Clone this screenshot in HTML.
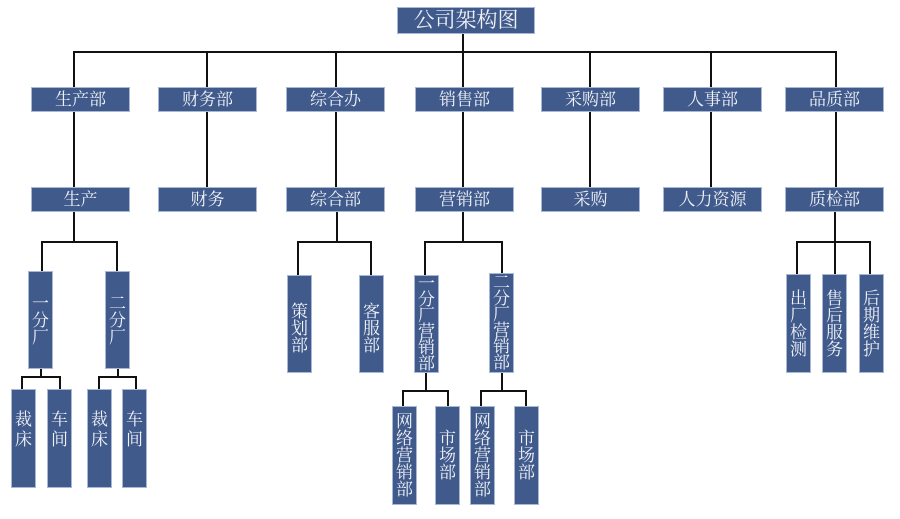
<!DOCTYPE html>
<html><head><meta charset="utf-8">
<style>
html,body{margin:0;padding:0;background:#fff;}
body{width:900px;height:519px;position:relative;overflow:hidden;font-family:"Liberation Serif","Noto Serif CJK SC",serif;}
.b{position:absolute;background:#405a8b;border:1px solid #a8b7d4;box-sizing:border-box;color:#f0f2f7;display:flex;align-items:center;justify-content:center;font-size:17px;line-height:17px;text-align:center;}
.v{flex-direction:column;}
.l{position:absolute;background:#111;}
.h{height:2px;}
.w{width:2px;}
</style></head><body>
<!-- title -->
<div class="b" style="left:397px;top:7px;width:138px;height:27px;font-size:21px;line-height:21px;">公司架构图</div>
<div class="l w" style="left:462px;top:34px;height:18px;"></div>
<div class="l h" style="left:73px;top:51px;width:764px;"></div>

<!-- level1 stems -->
<div class="l w" style="left:73px;top:52px;height:35px;"></div>
<div class="l w" style="left:206px;top:52px;height:35px;"></div>
<div class="l w" style="left:335px;top:52px;height:35px;"></div>
<div class="l w" style="left:462px;top:52px;height:35px;"></div>
<div class="l w" style="left:589px;top:52px;height:35px;"></div>
<div class="l w" style="left:710px;top:52px;height:35px;"></div>
<div class="l w" style="left:835px;top:52px;height:35px;"></div>

<!-- level1 boxes -->
<div class="b" style="left:31px;top:87px;width:99px;height:25px;">生产部</div>
<div class="b" style="left:158px;top:87px;width:99px;height:25px;">财务部</div>
<div class="b" style="left:286px;top:87px;width:99px;height:25px;">综合办</div>
<div class="b" style="left:415px;top:87px;width:99px;height:25px;">销售部</div>
<div class="b" style="left:541px;top:87px;width:99px;height:25px;">采购部</div>
<div class="b" style="left:663px;top:87px;width:99px;height:25px;">人事部</div>
<div class="b" style="left:785px;top:87px;width:99px;height:25px;">品质部</div>

<!-- level1->level2 stems -->
<div class="l w" style="left:73px;top:112px;height:75px;"></div>
<div class="l w" style="left:206px;top:112px;height:75px;"></div>
<div class="l w" style="left:335px;top:112px;height:75px;"></div>
<div class="l w" style="left:462px;top:112px;height:75px;"></div>
<div class="l w" style="left:589px;top:112px;height:75px;"></div>
<div class="l w" style="left:710px;top:112px;height:75px;"></div>
<div class="l w" style="left:835px;top:112px;height:75px;"></div>

<!-- level2 boxes -->
<div class="b" style="left:31px;top:187px;width:99px;height:25px;">生产</div>
<div class="b" style="left:158px;top:187px;width:99px;height:25px;">财务</div>
<div class="b" style="left:286px;top:187px;width:99px;height:25px;">综合部</div>
<div class="b" style="left:415px;top:187px;width:99px;height:25px;">营销部</div>
<div class="b" style="left:541px;top:187px;width:99px;height:25px;">采购</div>
<div class="b" style="left:663px;top:187px;width:99px;height:25px;">人力资源</div>
<div class="b" style="left:785px;top:187px;width:99px;height:25px;">质检部</div>

<!-- 生产 branch -->
<div class="l w" style="left:73px;top:212px;height:31px;"></div>
<div class="l h" style="left:41px;top:241px;width:77px;"></div>
<div class="l w" style="left:41px;top:241px;height:30px;"></div>
<div class="l w" style="left:116px;top:241px;height:30px;"></div>
<div class="b v" style="left:28px;top:271px;width:25px;height:98px;">一<br>分<br>厂</div>
<div class="b v" style="left:105px;top:271px;width:25px;height:98px;">二<br>分<br>厂</div>

<div class="l w" style="left:40px;top:369px;height:9px;"></div>
<div class="l h" style="left:21px;top:376px;width:40px;"></div>
<div class="l w" style="left:21px;top:376px;height:13px;"></div>
<div class="l w" style="left:59px;top:376px;height:13px;"></div>
<div class="b v" style="left:11px;top:389px;width:25px;height:99px;line-height:20px;padding-bottom:18px;">裁<br>床</div>
<div class="b v" style="left:47px;top:389px;width:25px;height:99px;line-height:20px;padding-bottom:18px;">车<br>间</div>

<div class="l w" style="left:117px;top:369px;height:9px;"></div>
<div class="l h" style="left:98px;top:376px;width:39px;"></div>
<div class="l w" style="left:98px;top:376px;height:13px;"></div>
<div class="l w" style="left:135px;top:376px;height:13px;"></div>
<div class="b v" style="left:87px;top:389px;width:25px;height:99px;line-height:20px;padding-bottom:18px;">裁<br>床</div>
<div class="b v" style="left:122px;top:389px;width:25px;height:99px;line-height:20px;padding-bottom:18px;">车<br>间</div>

<!-- 综合部 branch -->
<div class="l w" style="left:336px;top:212px;height:31px;"></div>
<div class="l h" style="left:297px;top:241px;width:75px;"></div>
<div class="l w" style="left:297px;top:241px;height:34px;"></div>
<div class="l w" style="left:370px;top:241px;height:34px;"></div>
<div class="b v" style="left:287px;top:275px;width:25px;height:98px;padding-top:8px;">策<br>划<br>部</div>
<div class="b v" style="left:359px;top:275px;width:25px;height:98px;padding-top:8px;">客<br>服<br>部</div>

<!-- 营销部 branch -->
<div class="l w" style="left:462px;top:212px;height:31px;"></div>
<div class="l h" style="left:424px;top:241px;width:79px;"></div>
<div class="l w" style="left:424px;top:241px;height:34px;"></div>
<div class="l w" style="left:501px;top:241px;height:32px;"></div>
<div class="b v" style="left:414px;top:275px;width:25px;height:98px;line-height:16px;">一<br>分<br>厂<br>营<br>销<br>部</div>
<div class="b v" style="left:489px;top:273px;width:25px;height:100px;line-height:16px;">二<br>分<br>厂<br>营<br>销<br>部</div>

<div class="l w" style="left:425px;top:373px;height:18px;"></div>
<div class="l h" style="left:402px;top:390px;width:47px;"></div>
<div class="l w" style="left:402px;top:390px;height:16px;"></div>
<div class="l w" style="left:447px;top:390px;height:16px;"></div>
<div class="b v" style="left:392px;top:406px;width:25px;height:99px;">网<br>络<br>营<br>销<br>部</div>
<div class="b v" style="left:435px;top:406px;width:25px;height:99px;">市<br>场<br>部</div>

<div class="l w" style="left:501px;top:373px;height:18px;"></div>
<div class="l h" style="left:480px;top:390px;width:47px;"></div>
<div class="l w" style="left:480px;top:390px;height:16px;"></div>
<div class="l w" style="left:525px;top:390px;height:16px;"></div>
<div class="b v" style="left:470px;top:406px;width:25px;height:99px;">网<br>络<br>营<br>销<br>部</div>
<div class="b v" style="left:514px;top:406px;width:25px;height:99px;">市<br>场<br>部</div>

<!-- 质检部 branch -->
<div class="l w" style="left:834px;top:212px;height:62px;"></div>
<div class="l h" style="left:796px;top:241px;width:75px;"></div>
<div class="l w" style="left:796px;top:241px;height:33px;"></div>
<div class="l w" style="left:869px;top:241px;height:33px;"></div>
<div class="b v" style="left:786px;top:274px;width:25px;height:99px;">出<br>厂<br>检<br>测</div>
<div class="b v" style="left:822px;top:274px;width:25px;height:99px;">售<br>后<br>服<br>务</div>
<div class="b v" style="left:859px;top:274px;width:25px;height:99px;">后<br>期<br>维<br>护</div>
</body></html>
